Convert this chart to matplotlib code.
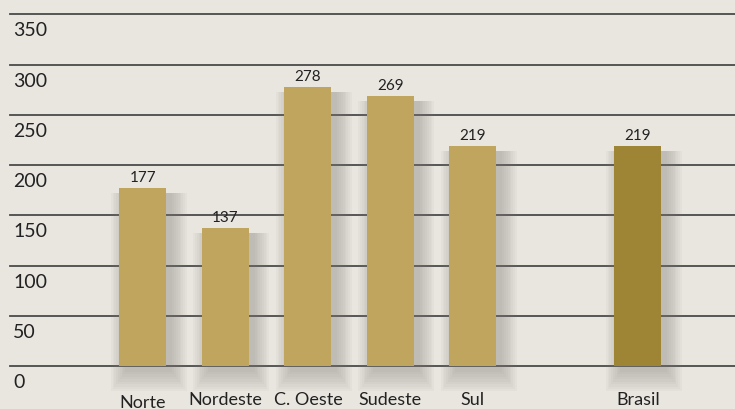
import matplotlib.pyplot as plt
from matplotlib.patches import Rectangle

# Data
regions = ['Norte', 'Nordeste', 'C. Oeste', 'Sudeste', 'Sul', 'Brasil']
values = [177, 137, 278, 269, 219, 219]
positions = [0, 1, 2, 3, 4, 6]
yticks = [0, 50, 100, 150, 200, 250, 300, 350]

bg = '#E9E6E0'
bar_color = '#C0A55E'
brasil_color = '#9E8535'

plt.rcParams['font.family'] = ['Lato', 'DejaVu Sans']

fig = plt.figure(figsize=(7.35, 4.10), dpi=100, facecolor=bg)
ax = fig.add_axes([0, 0, 1, 1])
ax.set_facecolor(bg)
ax.set_xlim(-1.733, 7.176)
ax.set_ylim(-42.8, 365.4)
ax.axis('off')

# horizontal grid lines with labels sitting below them
for t in yticks:
    ax.plot([-1.612, 7.176], [t, t], color='#4a4a4a', lw=1.3, zorder=1)
    ax.text(-1.575, t - 7, str(t), ha='left', va='top', fontsize=14, color='#222222')

width = 0.57
colors = [bar_color] * 5 + [brasil_color]

# soft shadow behind bars
for x, v in zip(positions, values):
    for k in range(9):
        pad = 0.022 * k
        ax.add_patch(Rectangle((x - width / 2 + 0.07 - pad, -6 - 2.4 * k),
                               width + 2 * pad, v + 6 + 2.4 * k - 5,
                               facecolor='#85817a', alpha=0.05, lw=0, zorder=2))

ax.bar(positions, values, width=width, color=colors, zorder=3)

for x, v, name in zip(positions, values, regions):
    ax.text(x, v + 4, str(v), ha='center', va='bottom', fontsize=11, color='#222222', zorder=4)
    y = -27.5 if name == 'Norte' else -24.5
    ax.text(x, y, name, ha='center', va='top', fontsize=13, color='#222222')

fig.savefig('out.png', dpi=100, facecolor=bg)
